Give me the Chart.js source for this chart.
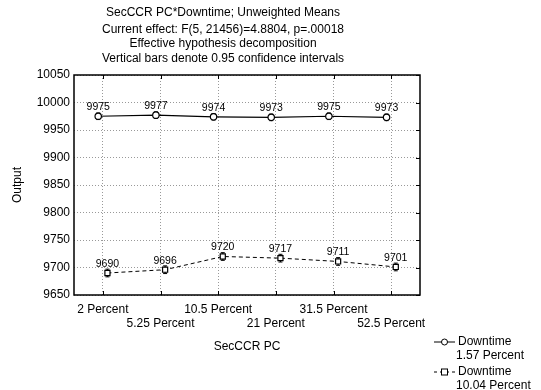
<!DOCTYPE html>
<html><head><meta charset="utf-8">
<script src="https://cdn.jsdelivr.net/npm/chart.js@4/dist/chart.umd.min.js"></script>
<style>html,body{margin:0;padding:0;background:#fff}#wrap{position:relative;width:541px;height:390px}</style>
</head><body><div id="wrap"><canvas id="c" width="541" height="390"></canvas></div>
<script>
// SecCCR PC x Downtime, unweighted means with 0.95 confidence intervals
const categories = ['2 Percent', '5.25 Percent', '10.5 Percent', '21 Percent', '31.5 Percent', '52.5 Percent'];
const downtimeLow = [9975, 9977, 9974, 9973, 9975, 9973];
const downtimeHigh = [9690, 9696, 9720, 9717, 9711, 9701];
const ciLow = [6, 6, 6, 6, 6, 6];
const ciHigh = [7, 7, 7, 7, 7, 7];
const yMin = 9650, yMax = 10050, yStep = 50;
const titleLines = [
  'SecCCR PC*Downtime; Unweighted Means',
  'Current effect: F(5, 21456)=4.8804, p=.00018',
  'Effective hypothesis decomposition',
  'Vertical bars denote 0.95 confidence intervals'
];
const xTitle = 'SecCCR PC';
const yTitle = 'Output';
const legendLines = [['Downtime', '1.57 Percent'], ['Downtime', '10.04 Percent']];

const FONT = '"Liberation Sans", Arial, sans-serif';
const SHIFT = 0.08;

function toPoints(vals, shift, ci) {
  return vals.map((v, i) => ({ x: i + shift, y: v, ci: ci[i] }));
}

const decor = {
  id: 'decor',
  beforeDatasetsDraw(chart) {
    const { ctx, chartArea: a, scales: { x, y } } = chart;
    ctx.save();
    // frame
    ctx.strokeStyle = '#000';
    ctx.lineWidth = 1.5;
    ctx.strokeRect(a.left, a.top, a.right - a.left, a.bottom - a.top);
    // inward tick marks
    ctx.lineWidth = 1;
    categories.forEach((c, i) => {
      const px = Math.round(x.getPixelForValue(i)) + 0.5;
      ctx.beginPath();
      ctx.moveTo(px, a.top); ctx.lineTo(px, a.top + 4);
      ctx.moveTo(px, a.bottom); ctx.lineTo(px, a.bottom - 4);
      ctx.stroke();
    });
    for (let v = yMin; v <= yMax; v += yStep) {
      const py = Math.round(y.getPixelForValue(v)) + 0.5;
      ctx.beginPath();
      ctx.moveTo(a.right, py); ctx.lineTo(a.right - 4, py);
      ctx.stroke();
    }
    // confidence interval whiskers
    chart.data.datasets.forEach(ds => {
      ds.data.forEach(p => {
        const px = x.getPixelForValue(p.x);
        const y1 = y.getPixelForValue(p.y - p.ci);
        const y2 = y.getPixelForValue(p.y + p.ci);
        ctx.beginPath();
        ctx.moveTo(px, y1); ctx.lineTo(px, y2);
        ctx.moveTo(px - 2, y1); ctx.lineTo(px + 2, y1);
        ctx.moveTo(px - 2, y2); ctx.lineTo(px + 2, y2);
        ctx.stroke();
      });
    });
    ctx.restore();
  },
  afterDraw(chart) {
    const { ctx, chartArea: a, scales: { x, y } } = chart;
    ctx.save();
    ctx.fillStyle = '#000';
    // titles
    ctx.font = '12px ' + FONT;
    ctx.textAlign = 'center';
    ctx.textBaseline = 'middle';
    const ty = [12.5, 29.5, 44, 58.5];
    titleLines.forEach((t, i) => ctx.fillText(t, 223, ty[i]));
    // value labels
    ctx.font = '10.5px ' + FONT;
    chart.data.datasets.forEach(ds => {
      ds.data.forEach(p => {
        ctx.fillText(String(p.y), x.getPixelForValue(p.x), y.getPixelForValue(p.y) - 9);
      });
    });
    // axis titles
    ctx.font = '12px ' + FONT;
    ctx.fillText(xTitle, (a.left + a.right) / 2, 346.5);
    ctx.save();
    ctx.translate(18, (a.top + a.bottom) / 2);
    ctx.rotate(-Math.PI / 2);
    ctx.fillText(yTitle, 0, 0);
    ctx.restore();
    // legend
    const rows = [342, 372];
    legendLines.forEach((lines, i) => {
      const ly = rows[i];
      ctx.lineWidth = 1;
      ctx.strokeStyle = '#000';
      ctx.setLineDash(i === 0 ? [] : [3, 3]);
      ctx.beginPath(); ctx.moveTo(434, ly); ctx.lineTo(455, ly); ctx.stroke();
      ctx.setLineDash([]);
      ctx.fillStyle = '#fff';
      if (i === 0) {
        ctx.beginPath(); ctx.arc(444.5, ly, 3, 0, Math.PI * 2); ctx.fill(); ctx.stroke();
      } else {
        ctx.fillRect(441.5, ly - 3, 6, 6); ctx.strokeRect(441.5, ly - 3, 6, 6);
      }
      ctx.fillStyle = '#000';
      ctx.textAlign = 'left';
      ctx.fillText(lines[0], 458, ly);
      ctx.fillText(lines[1], 456, ly + 13.5);
    });
    ctx.restore();
  }
};

new Chart(document.getElementById('c'), {
  type: 'line',
  data: {
    datasets: [
      {
        label: 'Downtime 1.57 Percent',
        data: toPoints(downtimeLow, -SHIFT, ciLow),
        borderColor: '#000', borderWidth: 1.2,
        pointStyle: 'circle', pointRadius: 3.2,
        pointBackgroundColor: '#fff', pointBorderColor: '#000', pointBorderWidth: 1.2
      },
      {
        label: 'Downtime 10.04 Percent',
        data: toPoints(downtimeHigh, SHIFT, ciHigh),
        borderColor: '#000', borderWidth: 1, borderDash: [4, 3],
        pointStyle: 'rect', pointRadius: 3.6,
        pointBackgroundColor: '#fff', pointBorderColor: '#000', pointBorderWidth: 1.2
      }
    ]
  },
  options: {
    responsive: false,
    animation: false,
    devicePixelRatio: 1,
    layout: { padding: { top: 75, right: 121, left: 0, bottom: 0 } },
    plugins: { legend: { display: false }, title: { display: false }, tooltip: { enabled: false } },
    scales: {
      x: {
        type: 'linear', min: -0.5, max: 5.5,
        afterBuildTicks(scale) { scale.ticks = categories.map((c, i) => ({ value: i })); },
        afterFit(scale) { scale.height = 95; },
        ticks: {
          autoSkip: false, maxRotation: 0, padding: 7,
          color: '#000', font: { family: FONT, size: 12, lineHeight: 1.2 },
          callback(v) { const i = Math.round(v); return i % 2 === 0 ? categories[i] : ['', categories[i]]; }
        },
        grid: { color: '#999', drawTicks: false },
        border: { display: false, dash: [1, 2] }
      },
      y: {
        min: yMin, max: yMax,
        afterFit(scale) { scale.width = 74; },
        ticks: {
          stepSize: yStep, padding: 4, color: '#000', font: { family: FONT, size: 12 },
          callback(v) { return String(v); }
        },
        grid: { color: '#999', drawTicks: false },
        border: { display: false, dash: [1, 2] }
      }
    }
  },
  plugins: [decor]
});
</script>
</body></html>
